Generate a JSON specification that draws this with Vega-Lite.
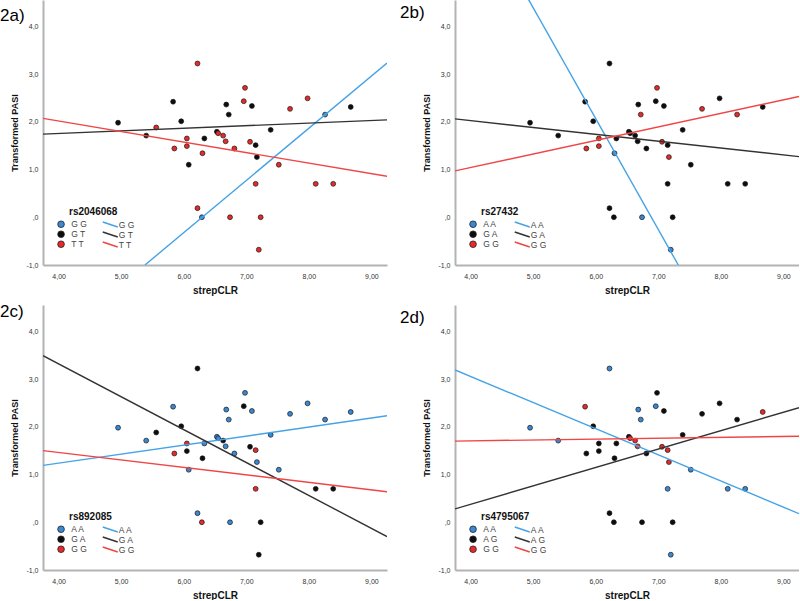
{
"$schema":"https://vega.github.io/schema/vega-lite/v6.json",
"padding":{"left":0,"top":0,"right":0,"bottom":0},
"background":"white",
"columns":2,
"spacing":{"column":68,"row":40},
"bounds":"flush",
"resolve":{"scale":{"fill":"independent","stroke":"independent"},"legend":{"fill":"independent","stroke":"independent"}},
"datasets":{
"pts":[
{"p":"A","x":6.22,"y":3.22,"g":"T T"},{"p":"A","x":6.98,"y":2.71,"g":"T T"},{"p":"A","x":6.96,"y":2.43,"g":"T T"},{"p":"A","x":5.83,"y":2.42,"g":"G T"},{"p":"A","x":6.68,"y":2.36,"g":"G T"},{"p":"A","x":6.72,"y":2.15,"g":"G T"},{"p":"A","x":7.09,"y":2.33,"g":"G T"},{"p":"A","x":7.70,"y":2.27,"g":"T T"},{"p":"A","x":7.98,"y":2.49,"g":"T T"},{"p":"A","x":8.26,"y":2.15,"g":"G G"},{"p":"A","x":8.67,"y":2.31,"g":"G T"},{"p":"A","x":4.95,"y":1.98,"g":"G T"},{"p":"A","x":5.96,"y":2.01,"g":"G T"},{"p":"A","x":5.56,"y":1.88,"g":"T T"},{"p":"A","x":5.40,"y":1.71,"g":"G T"},{"p":"A","x":6.53,"y":1.79,"g":"G T"},{"p":"A","x":6.55,"y":1.76,"g":"T T"},{"p":"A","x":6.63,"y":1.71,"g":"T T"},{"p":"A","x":7.39,"y":1.83,"g":"G T"},{"p":"A","x":6.05,"y":1.65,"g":"T T"},{"p":"A","x":6.33,"y":1.65,"g":"G T"},{"p":"A","x":6.67,"y":1.59,"g":"T T"},{"p":"A","x":7.06,"y":1.58,"g":"T T"},{"p":"A","x":7.15,"y":1.51,"g":"G T"},{"p":"A","x":5.85,"y":1.44,"g":"T T"},{"p":"A","x":6.05,"y":1.49,"g":"T T"},{"p":"A","x":6.81,"y":1.44,"g":"T T"},{"p":"A","x":6.30,"y":1.34,"g":"T T"},{"p":"A","x":7.17,"y":1.26,"g":"G T"},{"p":"A","x":6.08,"y":1.10,"g":"G T"},{"p":"A","x":7.52,"y":1.10,"g":"T T"},{"p":"A","x":7.15,"y":0.70,"g":"T T"},{"p":"A","x":8.11,"y":0.70,"g":"T T"},{"p":"A","x":8.39,"y":0.70,"g":"T T"},{"p":"A","x":6.22,"y":0.19,"g":"T T"},{"p":"A","x":6.29,"y":0.00,"g":"G G"},{"p":"A","x":6.74,"y":0.00,"g":"T T"},{"p":"A","x":7.23,"y":0.00,"g":"T T"},{"p":"A","x":7.20,"y":-0.68,"g":"T T"},
{"p":"B","x":6.22,"y":3.22,"g":"G A"},{"p":"B","x":6.98,"y":2.71,"g":"G G"},{"p":"B","x":6.96,"y":2.43,"g":"G A"},{"p":"B","x":5.83,"y":2.42,"g":"G A"},{"p":"B","x":6.68,"y":2.36,"g":"G A"},{"p":"B","x":6.72,"y":2.15,"g":"G G"},{"p":"B","x":7.09,"y":2.33,"g":"G A"},{"p":"B","x":7.70,"y":2.27,"g":"G G"},{"p":"B","x":7.98,"y":2.49,"g":"G A"},{"p":"B","x":8.26,"y":2.15,"g":"G G"},{"p":"B","x":8.67,"y":2.31,"g":"G A"},{"p":"B","x":4.95,"y":1.98,"g":"G A"},{"p":"B","x":5.96,"y":2.01,"g":"G A"},{"p":"B","x":5.40,"y":1.71,"g":"G A"},{"p":"B","x":6.53,"y":1.79,"g":"G A"},{"p":"B","x":6.55,"y":1.76,"g":"G A"},{"p":"B","x":6.63,"y":1.71,"g":"G A"},{"p":"B","x":7.39,"y":1.83,"g":"G A"},{"p":"B","x":6.05,"y":1.65,"g":"G G"},{"p":"B","x":6.33,"y":1.65,"g":"G A"},{"p":"B","x":6.67,"y":1.59,"g":"G A"},{"p":"B","x":7.06,"y":1.58,"g":"G G"},{"p":"B","x":7.15,"y":1.51,"g":"G A"},{"p":"B","x":5.85,"y":1.44,"g":"G G"},{"p":"B","x":6.05,"y":1.49,"g":"G G"},{"p":"B","x":6.81,"y":1.44,"g":"G A"},{"p":"B","x":6.30,"y":1.34,"g":"A A"},{"p":"B","x":7.17,"y":1.26,"g":"G G"},{"p":"B","x":7.52,"y":1.10,"g":"G A"},{"p":"B","x":7.15,"y":0.70,"g":"G A"},{"p":"B","x":8.11,"y":0.70,"g":"G A"},{"p":"B","x":8.39,"y":0.70,"g":"G A"},{"p":"B","x":6.22,"y":0.19,"g":"G A"},{"p":"B","x":6.29,"y":0.00,"g":"G A"},{"p":"B","x":6.74,"y":0.00,"g":"A A"},{"p":"B","x":7.23,"y":0.00,"g":"G A"},{"p":"B","x":7.20,"y":-0.68,"g":"A A"},
{"p":"C","x":6.22,"y":3.22,"g":"G A"},{"p":"C","x":6.98,"y":2.71,"g":"A A"},{"p":"C","x":6.96,"y":2.43,"g":"G A"},{"p":"C","x":5.83,"y":2.42,"g":"A A"},{"p":"C","x":6.68,"y":2.36,"g":"A A"},{"p":"C","x":6.72,"y":2.15,"g":"A A"},{"p":"C","x":7.09,"y":2.33,"g":"A A"},{"p":"C","x":7.70,"y":2.27,"g":"A A"},{"p":"C","x":7.98,"y":2.49,"g":"A A"},{"p":"C","x":8.26,"y":2.15,"g":"A A"},{"p":"C","x":8.67,"y":2.31,"g":"A A"},{"p":"C","x":4.95,"y":1.98,"g":"A A"},{"p":"C","x":5.96,"y":2.01,"g":"G A"},{"p":"C","x":5.56,"y":1.88,"g":"G A"},{"p":"C","x":5.40,"y":1.71,"g":"A A"},{"p":"C","x":6.53,"y":1.79,"g":"A A"},{"p":"C","x":6.55,"y":1.76,"g":"A A"},{"p":"C","x":6.63,"y":1.71,"g":"G A"},{"p":"C","x":7.39,"y":1.83,"g":"A A"},{"p":"C","x":6.05,"y":1.65,"g":"G G"},{"p":"C","x":6.33,"y":1.65,"g":"A A"},{"p":"C","x":6.67,"y":1.59,"g":"A A"},{"p":"C","x":7.06,"y":1.58,"g":"G A"},{"p":"C","x":7.15,"y":1.51,"g":"G G"},{"p":"C","x":5.85,"y":1.44,"g":"G G"},{"p":"C","x":6.05,"y":1.49,"g":"G A"},{"p":"C","x":6.81,"y":1.44,"g":"A A"},{"p":"C","x":6.30,"y":1.34,"g":"G A"},{"p":"C","x":7.17,"y":1.26,"g":"A A"},{"p":"C","x":6.08,"y":1.10,"g":"A A"},{"p":"C","x":7.52,"y":1.10,"g":"A A"},{"p":"C","x":7.15,"y":0.70,"g":"G G"},{"p":"C","x":8.11,"y":0.70,"g":"G A"},{"p":"C","x":8.39,"y":0.70,"g":"G A"},{"p":"C","x":6.22,"y":0.19,"g":"A A"},{"p":"C","x":6.29,"y":0.00,"g":"G G"},{"p":"C","x":6.74,"y":0.00,"g":"A A"},{"p":"C","x":7.23,"y":0.00,"g":"G A"},{"p":"C","x":7.20,"y":-0.68,"g":"G A"},
{"p":"D","x":6.22,"y":3.22,"g":"A A"},{"p":"D","x":6.98,"y":2.71,"g":"A G"},{"p":"D","x":6.96,"y":2.43,"g":"A A"},{"p":"D","x":5.83,"y":2.42,"g":"G G"},{"p":"D","x":6.68,"y":2.36,"g":"A A"},{"p":"D","x":6.72,"y":2.15,"g":"A A"},{"p":"D","x":7.09,"y":2.33,"g":"A G"},{"p":"D","x":7.70,"y":2.27,"g":"A G"},{"p":"D","x":7.98,"y":2.49,"g":"A G"},{"p":"D","x":8.26,"y":2.15,"g":"A G"},{"p":"D","x":8.67,"y":2.31,"g":"G G"},{"p":"D","x":4.95,"y":1.98,"g":"A A"},{"p":"D","x":5.96,"y":2.01,"g":"A G"},{"p":"D","x":5.40,"y":1.71,"g":"A A"},{"p":"D","x":6.53,"y":1.79,"g":"A G"},{"p":"D","x":6.55,"y":1.76,"g":"G G"},{"p":"D","x":6.63,"y":1.71,"g":"G G"},{"p":"D","x":7.39,"y":1.83,"g":"A G"},{"p":"D","x":6.05,"y":1.65,"g":"A G"},{"p":"D","x":6.33,"y":1.65,"g":"A G"},{"p":"D","x":6.67,"y":1.59,"g":"G G"},{"p":"D","x":7.06,"y":1.58,"g":"G G"},{"p":"D","x":7.15,"y":1.51,"g":"G G"},{"p":"D","x":5.85,"y":1.44,"g":"A G"},{"p":"D","x":6.05,"y":1.49,"g":"A G"},{"p":"D","x":6.81,"y":1.44,"g":"A G"},{"p":"D","x":6.30,"y":1.34,"g":"A G"},{"p":"D","x":7.17,"y":1.26,"g":"G G"},{"p":"D","x":7.52,"y":1.10,"g":"A A"},{"p":"D","x":7.15,"y":0.70,"g":"A A"},{"p":"D","x":8.11,"y":0.70,"g":"A A"},{"p":"D","x":8.39,"y":0.70,"g":"A A"},{"p":"D","x":6.22,"y":0.19,"g":"A G"},{"p":"D","x":6.29,"y":0.00,"g":"A G"},{"p":"D","x":6.74,"y":0.00,"g":"A G"},{"p":"D","x":7.23,"y":0.00,"g":"A G"},{"p":"D","x":7.20,"y":-0.68,"g":"A A"}
],
"fit":[
{"p":"A","g":"G G","x":5.38,"y":-1.0},{"p":"A","g":"G G","x":9.25,"y":3.23},
{"p":"A","g":"G T","x":3.75,"y":1.74},{"p":"A","g":"G T","x":9.25,"y":2.04},
{"p":"A","g":"T T","x":3.75,"y":2.07},{"p":"A","g":"T T","x":9.25,"y":0.86},
{"p":"B","g":"A A","x":4.90,"y":4.62},{"p":"B","g":"A A","x":7.32,"y":-1.0},
{"p":"B","g":"G A","x":3.75,"y":2.06},{"p":"B","g":"G A","x":9.25,"y":1.27},
{"p":"B","g":"G G","x":3.75,"y":0.97},{"p":"B","g":"G G","x":9.25,"y":2.53},
{"p":"C","g":"A A","x":3.75,"y":1.19},{"p":"C","g":"A A","x":9.25,"y":2.23},
{"p":"C","g":"G A","x":3.75,"y":3.49},{"p":"C","g":"G A","x":9.25,"y":-0.30},
{"p":"C","g":"G G","x":3.75,"y":1.50},{"p":"C","g":"G G","x":9.25,"y":0.64},
{"p":"D","g":"A A","x":3.75,"y":3.19},{"p":"D","g":"A A","x":9.25,"y":0.18},
{"p":"D","g":"A G","x":3.75,"y":0.28},{"p":"D","g":"A G","x":9.25,"y":2.40},
{"p":"D","g":"G G","x":3.75,"y":1.70},{"p":"D","g":"G G","x":9.25,"y":1.80}
]
},
"concat":[
{"width":344,"height":265,
"title":{"text":"2a)","anchor":"start","frame":"group","dx":-43,"dy":38,"offset":0,"baseline":"alphabetic","fontSize":17,"fontWeight":"normal","font":"Liberation Sans","color":"#000"},
"layer":[
{"data":{"name":"pts"},"transform":[{"filter":"datum.p=='A'"}],"mark":{"type":"circle","size":24,"stroke":"#151515","strokeWidth":0.7,"opacity":1},
"encoding":{
"x":{"field":"x","type":"quantitative","scale":{"domain":[3.75,9.25],"nice":false,"zero":false},"axis":{"title":"strepCLR","values":[4,5,6,7,8,9],"labelExpr":"replace(format(datum.value,'.2f'),'.',',')"}},
"y":{"field":"y","type":"quantitative","scale":{"domain":[-1,4.55],"nice":false,"zero":false},"axis":{"title":"Transformed PASI","values":[-1,0,1,2,3,4],"labelExpr":"datum.value == 0 ? ',0' : replace(replace(format(datum.value,'.1f'),'.',','),'\u2212','-')"}},
"fill":{"field":"g","type":"nominal","scale":{"domain":["G G","G T","T T"],"range":["#3a87d4","#0d0d0d","#e62a2a"]},
"legend":{"title":"rs2046068","orient":"none","legendX":26,"legendY":207,"padding":0,"titlePadding":3,"titleFontSize":10,"titleFontWeight":"bold","titleColor":"#111","labelFontSize":8.5,"labelColor":"#444","rowPadding":-2,"symbolType":"circle","symbolSize":44,"symbolStrokeColor":"#222","symbolStrokeWidth":0.8,"symbolOffset":-12.2,"labelOffset":5.9}}}},
{"data":{"name":"fit"},"transform":[{"filter":"datum.p=='A'"}],"mark":{"type":"line","strokeWidth":1.4,"clip":true},
"encoding":{"x":{"field":"x","type":"quantitative"},"y":{"field":"y","type":"quantitative"},
"stroke":{"field":"g","type":"nominal","scale":{"range":["#45a3e6","#333333","#f04545"]},
"legend":{"title":null,"orient":"none","legendX":59,"legendY":220,"padding":0,"labelFontSize":8.5,"labelColor":"#444","rowPadding":-2,"symbolType":"M-2,-0.66L2,0.66","symbolSize":56,"symbolStrokeWidth":1.5,"symbolOffset":3.76,"labelOffset":4.1}}}}
]},
{"width":344,"height":265,
"title":{"text":"2b)","anchor":"start","frame":"group","dx":-55,"dy":35,"offset":0,"baseline":"alphabetic","fontSize":17,"fontWeight":"normal","font":"Liberation Sans","color":"#000"},
"layer":[
{"data":{"name":"pts"},"transform":[{"filter":"datum.p=='B'"}],"mark":{"type":"circle","size":24,"stroke":"#151515","strokeWidth":0.7,"opacity":1},
"encoding":{
"x":{"field":"x","type":"quantitative","scale":{"domain":[3.75,9.25],"nice":false,"zero":false},"axis":{"title":"strepCLR","values":[4,5,6,7,8,9],"labelExpr":"replace(format(datum.value,'.2f'),'.',',')"}},
"y":{"field":"y","type":"quantitative","scale":{"domain":[-1,4.55],"nice":false,"zero":false},"axis":{"title":"Transformed PASI","values":[-1,0,1,2,3,4],"labelExpr":"datum.value == 0 ? ',0' : replace(replace(format(datum.value,'.1f'),'.',','),'\u2212','-')"}},
"fill":{"field":"g","type":"nominal","scale":{"domain":["A A","G A","G G"],"range":["#3a87d4","#0d0d0d","#e62a2a"]},
"legend":{"title":"rs27432","orient":"none","legendX":26,"legendY":207,"padding":0,"titlePadding":3,"titleFontSize":10,"titleFontWeight":"bold","titleColor":"#111","labelFontSize":8.5,"labelColor":"#444","rowPadding":-2,"symbolType":"circle","symbolSize":44,"symbolStrokeColor":"#222","symbolStrokeWidth":0.8,"symbolOffset":-12.2,"labelOffset":5.9}}}},
{"data":{"name":"fit"},"transform":[{"filter":"datum.p=='B'"}],"mark":{"type":"line","strokeWidth":1.4,"clip":true},
"encoding":{"x":{"field":"x","type":"quantitative"},"y":{"field":"y","type":"quantitative"},
"stroke":{"field":"g","type":"nominal","scale":{"range":["#45a3e6","#333333","#f04545"]},
"legend":{"title":null,"orient":"none","legendX":59,"legendY":220,"padding":0,"labelFontSize":8.5,"labelColor":"#444","rowPadding":-2,"symbolType":"M-2,-0.66L2,0.66","symbolSize":56,"symbolStrokeWidth":1.5,"symbolOffset":3.76,"labelOffset":4.1}}}}
]},
{"width":344,"height":265,
"title":{"text":"2c)","anchor":"start","frame":"group","dx":-43,"dy":29,"offset":0,"baseline":"alphabetic","fontSize":17,"fontWeight":"normal","font":"Liberation Sans","color":"#000"},
"layer":[
{"data":{"name":"pts"},"transform":[{"filter":"datum.p=='C'"}],"mark":{"type":"circle","size":24,"stroke":"#151515","strokeWidth":0.7,"opacity":1},
"encoding":{
"x":{"field":"x","type":"quantitative","scale":{"domain":[3.75,9.25],"nice":false,"zero":false},"axis":{"title":"strepCLR","values":[4,5,6,7,8,9],"labelExpr":"replace(format(datum.value,'.2f'),'.',',')"}},
"y":{"field":"y","type":"quantitative","scale":{"domain":[-1,4.55],"nice":false,"zero":false},"axis":{"title":"Transformed PASI","values":[-1,0,1,2,3,4],"labelExpr":"datum.value == 0 ? ',0' : replace(replace(format(datum.value,'.1f'),'.',','),'\u2212','-')"}},
"fill":{"field":"g","type":"nominal","scale":{"domain":["A A","G A","G G"],"range":["#3a87d4","#0d0d0d","#e62a2a"]},
"legend":{"title":"rs892085","orient":"none","legendX":26,"legendY":207,"padding":0,"titlePadding":3,"titleFontSize":10,"titleFontWeight":"bold","titleColor":"#111","labelFontSize":8.5,"labelColor":"#444","rowPadding":-2,"symbolType":"circle","symbolSize":44,"symbolStrokeColor":"#222","symbolStrokeWidth":0.8,"symbolOffset":-12.2,"labelOffset":5.9}}}},
{"data":{"name":"fit"},"transform":[{"filter":"datum.p=='C'"}],"mark":{"type":"line","strokeWidth":1.4,"clip":true},
"encoding":{"x":{"field":"x","type":"quantitative"},"y":{"field":"y","type":"quantitative"},
"stroke":{"field":"g","type":"nominal","scale":{"range":["#45a3e6","#333333","#f04545"]},
"legend":{"title":null,"orient":"none","legendX":59,"legendY":220,"padding":0,"labelFontSize":8.5,"labelColor":"#444","rowPadding":-2,"symbolType":"M-2,-0.66L2,0.66","symbolSize":56,"symbolStrokeWidth":1.5,"symbolOffset":3.76,"labelOffset":4.1}}}}
]},
{"width":344,"height":265,
"title":{"text":"2d)","anchor":"start","frame":"group","dx":-55,"dy":35,"offset":0,"baseline":"alphabetic","fontSize":17,"fontWeight":"normal","font":"Liberation Sans","color":"#000"},
"layer":[
{"data":{"name":"pts"},"transform":[{"filter":"datum.p=='D'"}],"mark":{"type":"circle","size":24,"stroke":"#151515","strokeWidth":0.7,"opacity":1},
"encoding":{
"x":{"field":"x","type":"quantitative","scale":{"domain":[3.75,9.25],"nice":false,"zero":false},"axis":{"title":"strepCLR","values":[4,5,6,7,8,9],"labelExpr":"replace(format(datum.value,'.2f'),'.',',')"}},
"y":{"field":"y","type":"quantitative","scale":{"domain":[-1,4.55],"nice":false,"zero":false},"axis":{"title":"Transformed PASI","values":[-1,0,1,2,3,4],"labelExpr":"datum.value == 0 ? ',0' : replace(replace(format(datum.value,'.1f'),'.',','),'\u2212','-')"}},
"fill":{"field":"g","type":"nominal","scale":{"domain":["A A","A G","G G"],"range":["#3a87d4","#0d0d0d","#e62a2a"]},
"legend":{"title":"rs4795067","orient":"none","legendX":26,"legendY":207,"padding":0,"titlePadding":3,"titleFontSize":10,"titleFontWeight":"bold","titleColor":"#111","labelFontSize":8.5,"labelColor":"#444","rowPadding":-2,"symbolType":"circle","symbolSize":44,"symbolStrokeColor":"#222","symbolStrokeWidth":0.8,"symbolOffset":-12.2,"labelOffset":5.9}}}},
{"data":{"name":"fit"},"transform":[{"filter":"datum.p=='D'"}],"mark":{"type":"line","strokeWidth":1.4,"clip":true},
"encoding":{"x":{"field":"x","type":"quantitative"},"y":{"field":"y","type":"quantitative"},
"stroke":{"field":"g","type":"nominal","scale":{"range":["#45a3e6","#333333","#f04545"]},
"legend":{"title":null,"orient":"none","legendX":59,"legendY":220,"padding":0,"labelFontSize":8.5,"labelColor":"#444","rowPadding":-2,"symbolType":"M-2,-0.66L2,0.66","symbolSize":56,"symbolStrokeWidth":1.5,"symbolOffset":3.76,"labelOffset":4.1}}}}
]}
],
"config":{
"view":{"stroke":null},
"font":"Liberation Sans",
"axis":{"domainColor":"#b3b3b3","domainWidth":2,"ticks":false,"grid":false,"labelFont":"Liberation Sans","labelFontSize":7,"labelColor":"#333","titleFont":"Liberation Sans","titleFontWeight":"bold","titleColor":"#111"},
"axisX":{"labelPadding":7,"titlePadding":6,"titleFontSize":10},
"axisY":{"labelPadding":5,"titlePadding":6,"titleFontSize":9},
"legend":{"titleFont":"Liberation Sans","labelFont":"Liberation Sans"}
}
}
